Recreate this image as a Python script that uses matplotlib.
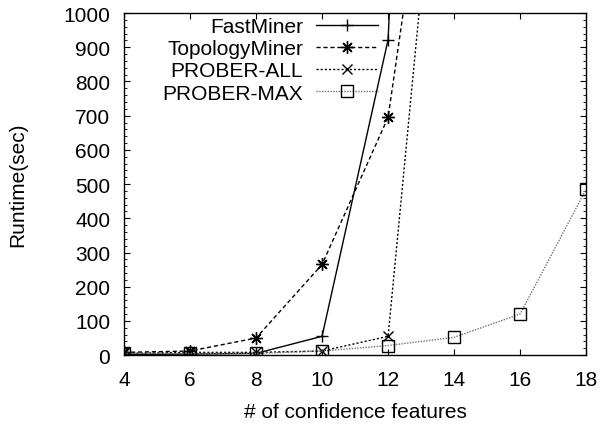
import numpy as np
import matplotlib
matplotlib.use('Agg')
import matplotlib.pyplot as plt
from matplotlib.ticker import MultipleLocator

features = [4, 6, 8, 10, 12, 14, 16, 18]

fastminer = [2, 3, 5, 55, 922, 5000]
topologyminer = [8, 12, 50, 265, 695, 2030]
prober_all = [5, 8, 8, 12, 55, 2070]
prober_max = [5, 5, 5, 12, 28, 52, 120, 485]

plt.rcParams['font.family'] = ['Liberation Sans', 'DejaVu Sans']
plt.rcParams['font.size'] = 15

fig = plt.figure(figsize=(6.08, 4.27), dpi=100)
ax = fig.add_axes([0.204, 0.166, 0.760, 0.801])

ax.plot(features[:len(fastminer)], fastminer, color='black', lw=1.0,
        marker='+', ms=9, mew=1.0, label='FastMiner')
ax.plot(features[:len(topologyminer)], topologyminer, color='black', lw=1.0,
        ls=(0, (3, 2)), marker=(8, 2, 0), ms=9, mew=1.0, label='TopologyMiner')
ax.plot(features[:len(prober_all)], prober_all, color='black', lw=1.0,
        ls=(0, (1.5, 1.5)), marker='x', ms=7.5, mew=1.0, label='PROBER-ALL')
ax.plot(features, prober_max, color='0.45', lw=1.0, ls=(0, (1, 1)),
        marker='s', ms=8, mew=1.0, mfc='none', mec='black', label='PROBER-MAX')

ax.set_xlim(4, 18)
ax.set_ylim(0, 1000)
ax.set_xticks(range(4, 19, 2))
ax.set_yticks(range(0, 1001, 100))
ax.yaxis.set_minor_locator(MultipleLocator(20))
ax.tick_params(which='major', direction='in', length=4.5, top=True, right=True)
ax.tick_params(axis='x', which='major', pad=11)
ax.tick_params(axis='y', which='major', pad=10)
ax.tick_params(which='minor', direction='in', length=2.2, left=True, right=True)
for s in ax.spines.values():
    s.set_linewidth(1.0)

ax.set_xlabel('# of confidence features', labelpad=9)
ax.set_ylabel('Runtime(sec)', labelpad=26)

leg = ax.legend(loc='upper right', bbox_to_anchor=(0.55, 0.988), frameon=False,
                markerfirst=False, numpoints=1, handlelength=3.0,
                labelspacing=0.15, handletextpad=0.6, borderaxespad=0.0,
                borderpad=0.0)
for t in leg.get_texts():
    t.set_ha('right')
    t.set_position((0, 0))

fig.savefig('out.png', dpi=100)
